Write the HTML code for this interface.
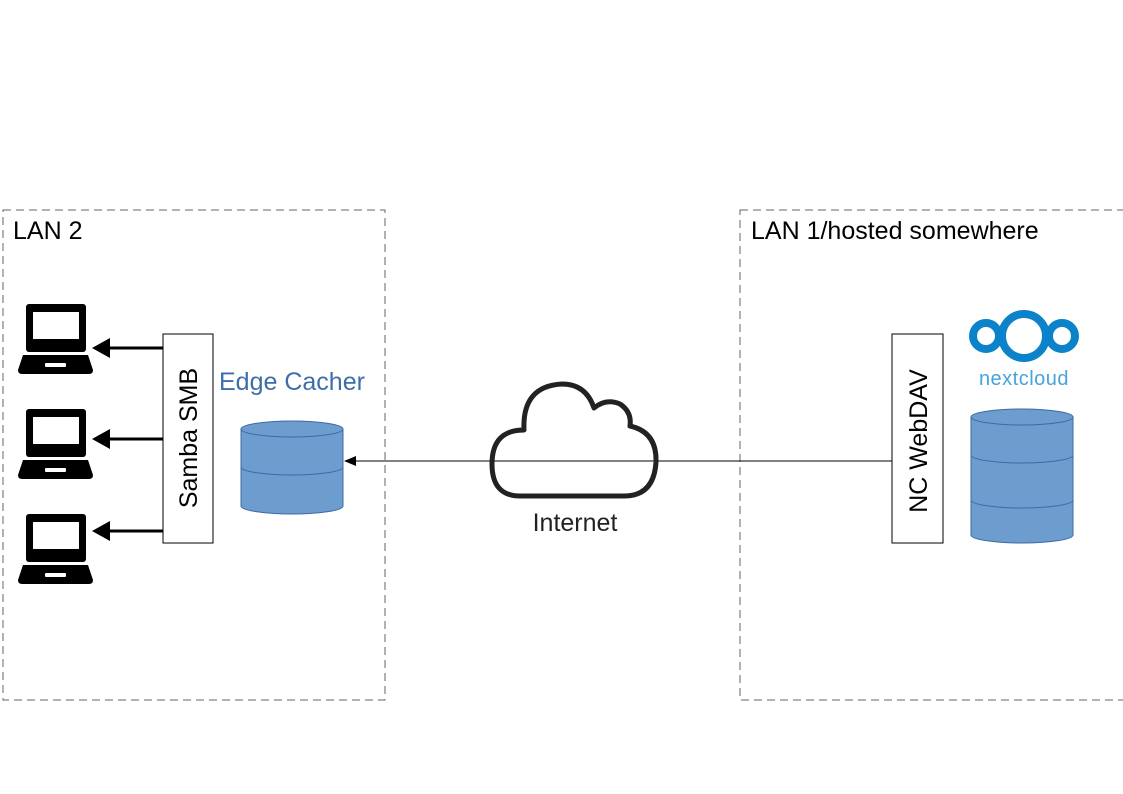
<!DOCTYPE html>
<html><head><meta charset="utf-8"><style>html,body{margin:0;padding:0;background:#fff}svg{display:block}</style></head><body>
<svg width="1123" height="794" viewBox="0 0 1123 794" xmlns="http://www.w3.org/2000/svg" font-family="Liberation Sans, sans-serif">
<defs>
<g id="lap">
<rect x="26" y="0" width="60" height="48" rx="3" fill="#000"/>
<rect x="33" y="8" width="46" height="27" fill="#fff"/>
<path d="M23 51 H88 L93 66 Q93 70 89 70 H22 Q18 70 18 66 Z" fill="#000"/>
<rect x="45" y="59" width="21" height="4" rx="1" fill="#fff"/>
</g>
</defs>
<rect x="3" y="210" width="382" height="490" fill="none" stroke="#666" stroke-dasharray="8,5"/>
<rect x="740" y="210" width="390" height="490" fill="none" stroke="#666" stroke-dasharray="8,5"/>
<text x="13" y="239" font-size="25" fill="#000">LAN 2</text>
<text x="751" y="239" font-size="25" fill="#000">LAN 1/hosted somewhere</text>
<use href="#lap" y="304"/>
<use href="#lap" y="409"/>
<use href="#lap" y="514"/>
<g stroke="#000" stroke-width="3"><line x1="163" y1="348" x2="105" y2="348"/><line x1="163" y1="439" x2="105" y2="439"/><line x1="163" y1="531" x2="105" y2="531"/></g>
<g fill="#000"><path d="M92 348 L110 338 L110 358Z"/><path d="M92 439 L110 429 L110 449Z"/><path d="M92 531 L110 521 L110 541Z"/></g>
<rect x="163" y="334" width="50" height="209" fill="#fff" stroke="#000"/>
<text transform="translate(197,438) rotate(-90)" text-anchor="middle" font-size="25">Samba SMB</text>
<text x="219" y="390" font-size="25" fill="#3d6eaa">Edge Cacher</text>
<g fill="#6d9ccf" stroke="#3d6aa5" stroke-width="1">
<path d="M241 429 V506 A51 8 0 0 0 343 506 V429Z"/>
<path d="M241 467 A51 8 0 0 0 343 467" fill="none"/>
<ellipse cx="292" cy="429" rx="51" ry="8"/>
</g>
<line x1="350" y1="461" x2="892" y2="461" stroke="#000" stroke-width="1"/>
<path d="M344 461 L356 456 L356 466Z" fill="#000"/>
<path d="M520 496 Q492 496 492 464 Q492 430 524 430 Q522 386 562 384 Q586 384 594 408 Q606 398 620 404 Q632 412 630 426 Q657 432 656 462 Q654 496 624 496 Z" fill="none" stroke="#222" stroke-width="5" stroke-linejoin="round"/>
<text x="575" y="531" text-anchor="middle" font-size="25" fill="#222">Internet</text>
<rect x="892" y="334" width="51" height="209" fill="#fff" stroke="#000"/>
<text transform="translate(927,441) rotate(-90)" text-anchor="middle" font-size="25">NC WebDAV</text>
<g fill="none" stroke="#0c82c9" stroke-width="8"><circle cx="986" cy="336" r="13"/><circle cx="1024" cy="336" r="22"/><circle cx="1062" cy="336" r="13"/></g>
<text x="1024" y="385" text-anchor="middle" font-size="20" fill="#47a3dc" letter-spacing="0.5">nextcloud</text>
<g fill="#6d9ccf" stroke="#3d6aa5" stroke-width="1">
<path d="M971 417 V535 A51 8 0 0 0 1073 535 V417Z"/>
<path d="M971 455 A51 8 0 0 0 1073 455 M971 500 A51 8 0 0 0 1073 500" fill="none"/>
<ellipse cx="1022" cy="417" rx="51" ry="8"/>
</g>
</svg>
</body></html>
